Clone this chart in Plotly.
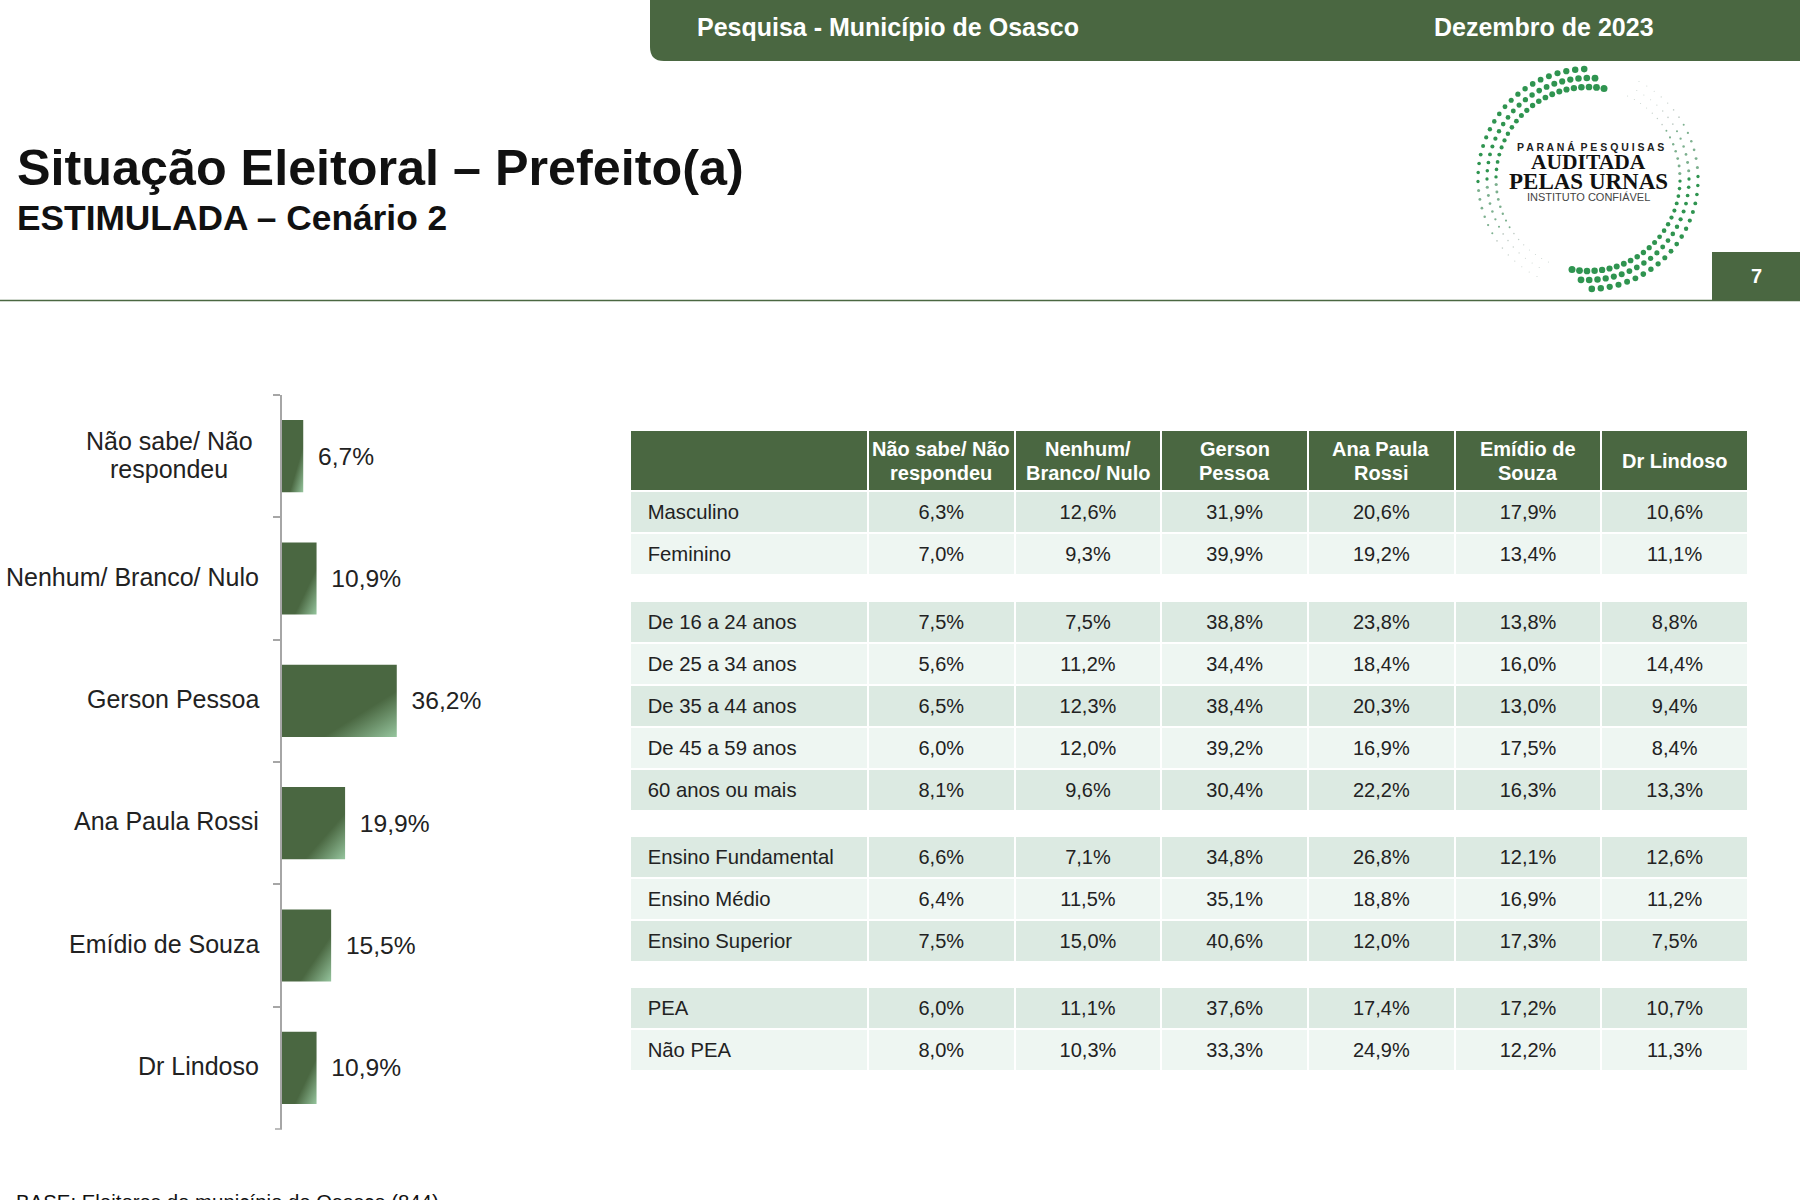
import base64
import math
import plotly.graph_objects as go

W, H = 1800, 1200
GREEN = "#4A6741"
INK = "#222222"
FONT = "Liberation Sans, Arial, sans-serif"

# ---- bar chart data ----
candidates = ["Não sabe/ Não<br>respondeu", "Nenhum/ Branco/ Nulo", "Gerson Pessoa",
              "Ana Paula Rossi", "Emídio de Souza", "Dr Lindoso"]
candidate_values = [6.7, 10.9, 36.2, 19.9, 15.5, 10.9]

# ---- table data ----
table_header = ["Não sabe/ Não<br>respondeu", "Nenhum/<br>Branco/ Nulo", "Gerson<br>Pessoa",
                "Ana Paula<br>Rossi", "Emídio de<br>Souza", "Dr Lindoso"]
row_labels = [["Masculino", "Feminino"],
              ["De 16 a 24 anos", "De 25 a 34 anos", "De 35 a 44 anos", "De 45 a 59 anos", "60 anos ou mais"],
              ["Ensino Fundamental", "Ensino Médio", "Ensino Superior"],
              ["PEA", "Não PEA"]]
nao_sabe = [["6,3%", "7,0%"], ["7,5%", "5,6%", "6,5%", "6,0%", "8,1%"], ["6,6%", "6,4%", "7,5%"], ["6,0%", "8,0%"]]
nenhum = [["12,6%", "9,3%"], ["7,5%", "11,2%", "12,3%", "12,0%", "9,6%"], ["7,1%", "11,5%", "15,0%"], ["11,1%", "10,3%"]]
gerson = [["31,9%", "39,9%"], ["38,8%", "34,4%", "38,4%", "39,2%", "30,4%"], ["34,8%", "35,1%", "40,6%"], ["37,6%", "33,3%"]]
ana = [["20,6%", "19,2%"], ["23,8%", "18,4%", "20,3%", "16,9%", "22,2%"], ["26,8%", "18,8%", "12,0%"], ["17,4%", "24,9%"]]
emidio = [["17,9%", "13,4%"], ["13,8%", "16,0%", "13,0%", "17,5%", "16,3%"], ["12,1%", "16,9%", "17,3%"], ["17,2%", "12,2%"]]
lindoso = [["10,6%", "11,1%"], ["8,8%", "14,4%", "9,4%", "8,4%", "13,3%"], ["12,6%", "11,2%", "7,5%"], ["10,7%", "11,3%"]]
value_columns = [nao_sabe, nenhum, gerson, ana, emidio, lindoso]


def px(x):
    return x / W


def py(y):
    return 1 - y / H


fig = go.Figure()

# ---- bars ----
fig.add_trace(go.Bar(
    x=candidate_values, y=candidates, orientation="h",
    marker=dict(color=GREEN, line=dict(width=0)),
    texttemplate="\u00a0\u2009%{x:.1f}%", textposition="outside", cliponaxis=False,
    textfont=dict(family=FONT, size=24.6, color=INK), hoverinfo="skip", showlegend=False,
))

# ---- table blocks: (top, bottom) in page pixels ----
LIGHT_A, LIGHT_B = "#DCEAE2", "#EEF6F2"
TABLE_L, FIRST_W, COL_W = 630, 238, 146.7
col_widths = [FIRST_W] + [COL_W] * 6
table_right = TABLE_L + FIRST_W + 6 * COL_W
sizes = [20.3] + [20] * 6
blocks = [(430, 578), (601, 812), (836, 962), (987, 1072)]
INDENT = "\u00a0\u2009"
for g, labels in enumerate(row_labels):
    columns = [[INDENT + s for s in labels]] + [c[g] for c in value_columns]
    cell_line = dict(color="white", width=2)
    cell_font = dict(family=FONT, size=sizes, color=INK)
    aligns = ["left"] + ["center"] * 6
    if g == 0:
        header = dict(values=[""] * 7, height=61, fill_color=GREEN, line=cell_line,
                      font=dict(family=FONT, size=20, color="white"))
        body = columns
        offset = 0
    else:
        # Later blocks have no heading: their first row takes the header slot.
        header = dict(values=[c[0] for c in columns], height=42, fill_color=LIGHT_A, line=cell_line,
                      align=aligns, font=cell_font)
        body = [c[1:] for c in columns]
        offset = 1
    n = len(body[0])
    fills = [LIGHT_A if (i + offset) % 2 == 0 else LIGHT_B for i in range(n)]
    fig.add_trace(go.Table(
        domain=dict(x=[px(TABLE_L), px(table_right)], y=[py(blocks[g][1]), py(blocks[g][0])]),
        columnwidth=col_widths,
        header=header,
        cells=dict(values=body, height=42, fill_color=[fills] * 7, align=aligns,
                   line=cell_line, font=cell_font),
    ))


# ---- logo dots (decorative artwork only) ----
def arc(start, sweep):
    out = []
    step = 4.7
    for row, (radius, lag) in enumerate([(110, 12), (101, 6), (92, 0)]):
        n = int((sweep - lag) / step)
        for i in range(n + 1):
            deg = start + lag + i * step
            t = (deg - start) / sweep
            a = math.radians(deg)
            r = max(0.5, 3.5 * (1 - t) ** 0.8)
            cx = 115 + radius * math.cos(a)
            cy = 115 - radius * math.sin(a)
            shade = "#2F9450" if t < 0.62 else ("#7DB08F" if t < 0.8 else "#C4CFC9")
            out.append(f'<circle cx="{cx:.1f}" cy="{cy:.1f}" r="{r:.2f}" fill="{shade}"/>')
    return "".join(out)


dots = arc(80, 165) + arc(260, 165)
svg = f'<svg xmlns="http://www.w3.org/2000/svg" width="230" height="230" viewBox="0 0 230 230">{dots}</svg>'
logo = "data:image/svg+xml;base64," + base64.b64encode(svg.encode()).decode()


def note(text, x, y, size, color=INK, bold=False, xanchor="left", yanchor="middle", family=FONT, align="left"):
    return dict(text=f"<b>{text}</b>" if bold else text, x=px(x), y=py(y), xref="paper", yref="paper",
                xanchor=xanchor, yanchor=yanchor, align=align, showarrow=False,
                font=dict(family=family, size=size, color=color))


annotations = [
    note("Pesquisa - Município de Osasco", 695, 27, 25, "white", True),
    note("Dezembro de 2023", 1432, 27, 25, "white", True),
    note("Situação Eleitoral – Prefeito(a)", 15, 167, 50.3, "#111111", True),
    note("ESTIMULADA – Cenário 2", 15, 218, 35.3, "#111111", True),
    note("7", 1756, 276, 20, "white", True, "center"),
    note("P A R A N Á  P E S Q U I S A S", 1590, 147, 10.5, "#222222", True, "center"),
    note("AUDITADA", 1588, 162, 21.5, "#111111", True, "center", family="Liberation Serif, serif"),
    note("PELAS URNAS", 1588, 182, 23, "#111111", True, "center", family="Liberation Serif, serif"),
    note("INSTITUTO CONFIÁVEL", 1588, 197, 11, "#444444", False, "center"),
    note("BASE: Eleitores do município de Osasco (844)", 14, 1189, 20.4, "#111111", False, yanchor="top"),
]

# Column headings, one annotation per line to hold the reference's tight leading.
for c, title in enumerate(table_header):
    lines = title.split("<br>")
    cx = TABLE_L + FIRST_W + COL_W * (c + 0.5)
    for k, line in enumerate(lines):
        annotations.append(note(line, cx, 461 + (k - (len(lines) - 1) / 2) * 23.5, 20, "white", True, "center"))

# Category labels, anchored to the chart's own category axis.
for name in candidates:
    lines = name.split("<br>")
    if len(lines) > 1:
        for k, line in enumerate(lines):
            annotations.append(dict(text=line, x=px(169), y=name, xref="paper", yref="y", xanchor="center",
                                    showarrow=False, yshift=15 - 27.5 * k,
                                    font=dict(family=FONT, size=25, color=INK)))
    else:
        annotations.append(dict(text=name, x=px(261), y=name, xref="paper", yref="y", xanchor="right",
                                showarrow=False, yshift=2, font=dict(family=FONT, size=25, color=INK)))

x0, r = px(650), 14
rx, ry = r / W, r / H
banner = (f"M {x0},1 L 1,1 L 1,{py(61)} L {x0 + rx},{py(61)} "
          f"Q {x0},{py(61)} {x0},{py(61) + ry} Z")

AXIS = "#A6A6A6"
shapes = [
    dict(type="path", xref="paper", yref="paper", path=banner, fillcolor=GREEN, line=dict(width=0), layer="below"),
    dict(type="rect", xref="paper", yref="paper", x0=px(1712), x1=1, y0=py(300), y1=py(252),
         fillcolor=GREEN, line=dict(width=0), layer="below"),
    dict(type="line", xref="paper", yref="paper", x0=0, x1=1, y0=py(300.5), y1=py(300.5),
         line=dict(color=GREEN, width=1.6), layer="below"),
    dict(type="line", xref="paper", yref="paper", x0=px(275), x1=px(282), y0=py(1129), y1=py(1129),
         line=dict(color=AXIS, width=1.5), layer="below"),
]

fig.update_layout(
    width=W, height=H, margin=dict(l=0, r=0, t=0, b=0, pad=0), autosize=False,
    paper_bgcolor="white", plot_bgcolor="white", showlegend=False, separators=",.",
    bargap=0.41, shapes=shapes, annotations=annotations,
    font=dict(family=FONT, color=INK),
    images=[dict(source=logo, xref="paper", yref="paper", x=px(1473), y=py(64), sizex=230 / W, sizey=230 / H,
                 xanchor="left", yanchor="top", sizing="stretch", layer="above")],
    xaxis=dict(domain=[px(282), px(600)], range=[0, 100.3], visible=False, fixedrange=True),
    yaxis=dict(domain=[py(1129), py(395)], type="category", categoryorder="array", categoryarray=candidates,
               autorange="reversed", tickson="boundaries", ticks="outside", ticklen=7, tickwidth=1.5,
               tickcolor=AXIS, showline=True, linecolor=AXIS, linewidth=2, showticklabels=False,
               showgrid=False, zeroline=False, fixedrange=True),
)

post = """
document.body.style.margin = '0';
var css = document.createElement('style');
css.textContent = '.table .cell-text { transform: translateY(5px); }';
document.head.appendChild(css);
var gd = document.getElementById('{plot_id}');
function paintBars() {
  var svg = gd.querySelector('.main-svg');
  if (!svg.querySelector('#barGrad')) {
    var ns = 'http://www.w3.org/2000/svg';
    var defs = document.createElementNS(ns, 'defs');
    var g = document.createElementNS(ns, 'linearGradient');
    g.setAttribute('id', 'barGrad');
    g.setAttribute('x1', '0'); g.setAttribute('y1', '0');
    g.setAttribute('x2', '1'); g.setAttribute('y2', '1');
    [['0', '#4A6741'], ['0.68', '#4A6741'], ['1', '#96C59E']].forEach(function (s) {
      var st = document.createElementNS(ns, 'stop');
      st.setAttribute('offset', s[0]); st.setAttribute('stop-color', s[1]);
      g.appendChild(st);
    });
    defs.appendChild(g); svg.insertBefore(defs, svg.firstChild);
  }
  gd.querySelectorAll('.bars .point path').forEach(function (p) {
    p.style.setProperty('fill', 'url(#barGrad)');
  });
}
paintBars();
gd.on('plotly_afterplot', paintBars);
"""

fig.write_html("out.html", post_script=post, config=dict(displayModeBar=False))
